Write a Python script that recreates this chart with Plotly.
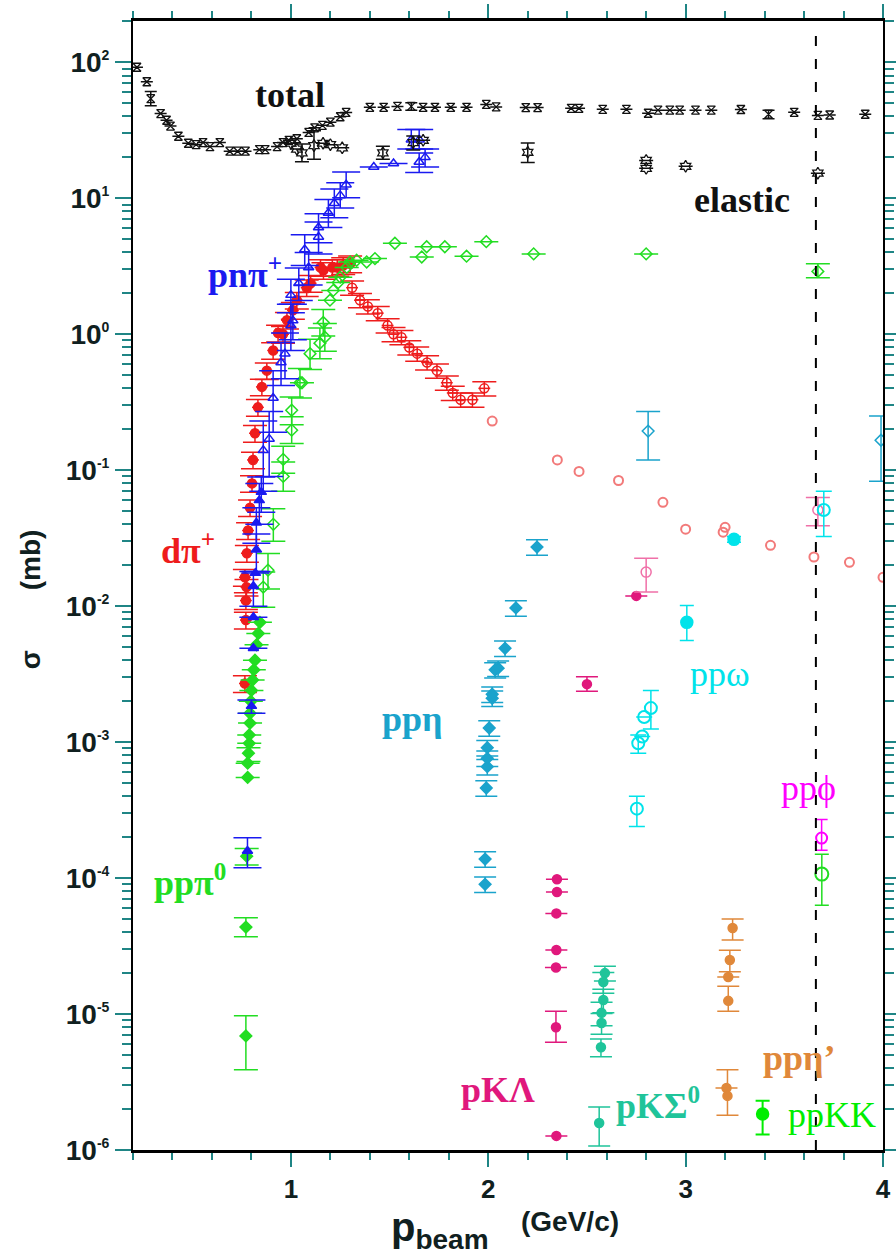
import plotly.graph_objects as go

N = None

# ---------------- axis ticks ----------------
X_MAJOR = [1, 2, 3, 4]
X_TICKTEXT = ["1", "2", "3", "4"]
Y_EXP = [-6, -5, -4, -3, -2, -1, 0, 1, 2]

# ---------------- total (black hourglass) ----------------
total_x = [0.22, 0.27, 0.29, 0.34, 0.37, 0.39, 0.43, 0.48, 0.52, 0.555,
           0.59, 0.64, 0.69, 0.73, 0.77, 0.84, 0.87, 0.93, 0.96, 0.99,
           1.03, 1.09, 1.12, 1.16, 1.20, 1.25, 1.28, 1.40, 1.47, 1.54,
           1.61, 1.67, 1.73, 1.81, 1.89, 1.99, 2.04, 2.19, 2.25, 2.42,
           2.46, 2.58, 2.70, 2.81, 2.86, 2.92, 2.97, 3.05, 3.13, 3.28,
           3.42, 3.55, 3.67, 3.73, 3.91]
total_y = [92, 72, 54, 42, 37.5, 34, 28.6, 25.4, 24.8, 25.7,
           24, 25.7, 22.2, 22.2, 22.2, 22.8, 22.8, 24, 25.7, 26.7,
           27.4, 30.5, 33, 34.4, 36.3, 39.8, 42.8, 46.7, 46.7, 47.4,
           47.4, 46.7, 46.7, 46.7, 46.7, 49, 47, 46.5, 46.5, 45.9,
           45.9, 45.1, 45.1, 42.2, 44.5, 44.5, 44.5, 44.5, 44.5, 45,
           41.5, 42.9, 40.7, 41, 41.5]
total_eu = [N, N, 7, N, N, N, N, N, N, N,
            N, N, N, N, N, N, N, N, N, N,
            N, N, N, N, N, N, N, N, N, N,
            3, N, N, N, N, N, N, N, N, N,
            N, N, N, N, N, N, N, N, N, N,
            3, N, N, N, N]
total_ed = [N, N, 6, N, N, N, N, N, N, N,
            N, N, N, N, N, N, N, N, N, N,
            N, N, N, N, N, N, N, N, N, N,
            3, N, N, N, N, N, N, N, N, N,
            N, N, N, N, N, N, N, N, N, N,
            3, N, N, N, N]

# ---------------- elastic (black hexagram) ----------------
el_x = [1.00, 1.03, 1.056, 1.117, 1.163, 1.20, 1.26, 1.466, 1.62, 1.67, 2.20, 2.80, 2.80, 3.00, 3.67]
el_y = [25.4, 23, 21.6, 24.4, 25.4, 24.8, 23.5, 21.6, 25.7, 26.7, 21.8, 19, 16.6, 17.2, 15.3]
el_eu = [N, N, 3.5, 7, N, N, N, 2.5, 3, N, 3.7, N, N, N, N]
el_ed = [N, N, 3, 5, N, N, N, 2.2, 3, N, 3.5, N, N, N, N]

# ---------------- p n pi+ (blue triangles) ----------------
pnf_x = [0.78, 0.80, 0.81, 0.81, 0.81, 0.82, 0.825, 0.825, 0.84, 0.85]
pnf_y = [1.58e-4, 1.84e-3, 4.9e-3, 8.3e-3, 0.014, 0.0175, 0.026, 0.041, 0.06, 0.069]
pnf_eu = [0.4e-4, 0.2e-3, N, N, 0.004, N, 0.008, 0.012, 0.02, 0.02]
pnf_ed = [0.39e-4, 0.21e-3, N, N, 0.004, N, 0.008, 0.012, 0.02, 0.02]

pno_x = [0.86, 0.89, 0.91, 0.95, 0.97, 1.00, 1.01, 1.00, 1.04, 1.09, 1.07, 1.14,
         1.14, 1.19, 1.22, 1.25, 1.28, 1.42, 1.52, 1.61, 1.65, 1.65, 1.68]
pno_y = [0.14, 0.17, 0.34, 0.62, 0.72, 1.16, 1.26, 1.94, 2.37, 3.1, 4.2, 5.2,
         6.1, 7.8, 9.2, 10.5, 12.6, 17, 18, 27, 27, 18.5, 20]
pno_eu = [0.09, 0.1, 0.2, 0.25, 0.3, 0.5, 0.4, 0.6, 0.7, 0.9, 1.2, 1.5,
          1.6, 2.0, 2.5, 2.5, 3, N, N, 5, 5, 3, 3]
pno_ed = [0.07, 0.08, 0.15, 0.2, 0.25, 0.4, 0.35, 0.5, 0.6, 0.8, 1.0, 1.3,
          1.4, 1.7, 2.0, 2.0, 2.5, N, N, 4, 4, 3, 3]

# ---------------- d pi+ (red) ----------------
dpf_x = [0.767, 0.772, 0.772, 0.775, 0.767, 0.777, 0.783, 0.793, 0.803, 0.808,
         0.818, 0.833, 0.853, 0.878, 0.91, 0.935, 0.96, 0.98, 1.01, 1.03,
         1.08, 1.10, 1.15, 1.165, 1.21, 1.235, 1.265, 1.30]
dpf_y = [2.7e-3, 7.9e-3, 0.011, 0.0138, 0.0163, 0.0245, 0.036, 0.053, 0.08, 0.119,
         0.187, 0.29, 0.41, 0.54, 0.76, 1.02, 1.0, 1.27, 1.5, 1.78,
         2.2, 2.37, 3.1, 2.95, 3.1, 3.1, 3.2, 3.3]

dpo_x = [1.31, 1.35, 1.39, 1.44, 1.49, 1.52, 1.56, 1.60, 1.64, 1.69, 1.74, 1.79, 1.82, 1.86, 1.92, 1.98]
dpo_y = [2.2, 1.78, 1.6, 1.43, 1.16, 1.0, 0.95, 0.8, 0.72, 0.62, 0.54, 0.44, 0.37, 0.33, 0.33, 0.40]

dpl_x = [2.02, 2.35, 2.46, 2.66, 2.885, 3.00, 3.19, 3.20, 3.43, 3.65, 3.83, 4.00]
dpl_y = [0.23, 0.119, 0.098, 0.084, 0.058, 0.0368, 0.035, 0.038, 0.028, 0.023, 0.021, 0.0163]

# ---------------- p p pi0 (green diamonds) ----------------
ppf_x = [0.772, 0.772, 0.776, 0.781, 0.781, 0.785, 0.789, 0.789, 0.793, 0.793,
         0.797, 0.80, 0.806, 0.812, 0.818, 0.826, 0.835, 0.843]
ppf_y = [6.9e-6, 4.36e-5, 1.45e-4, 5.5e-4, 7.0e-4, 8.3e-4, 9.8e-4, 1.13e-3, 1.38e-3, 1.63e-3,
         2.0e-3, 2.4e-3, 2.86e-3, 3.4e-3, 4.0e-3, 5.2e-3, 6.3e-3, 7.6e-3]
ppf_eu = [2.8e-6, 0.74e-5, 0.2e-4, N, N, 0.8e-4, N, N, N, N,
          N, N, N, N, N, N, N, N]
ppf_ed = [3.0e-6, 0.66e-5, 0.2e-4, N, N, 1.1e-4, N, N, N, N,
          N, N, N, N, N, N, N, N]

ppo_x = [0.86, 0.884, 0.911, 0.961, 0.961, 1.004, 1.004, 1.046, 1.056, 1.097,
         1.147, 1.164, 1.172, 1.198, 1.215, 1.24, 1.25, 1.283, 1.30, 1.333,
         1.384, 1.426, 1.527, 1.663, 1.688, 1.78, 1.89, 1.99, 2.23, 2.80, 3.67]
ppo_y = [0.0138, 0.0184, 0.04, 0.09, 0.12, 0.197, 0.276, 0.44, 0.44, 0.72,
         0.86, 1.22, 0.95, 1.78, 2.1, 2.4, 2.63, 3.1, 3.4, 3.5,
         3.4, 3.6, 4.67, 3.7, 4.4, 4.4, 3.75, 4.8, 3.9, 3.9, 2.9]
ppo_eu = [0.004, 0.006, 0.012, 0.025, 0.03, 0.05, 0.07, 0.12, N, 0.2,
          0.25, 0.3, 0.25, N, N, N, N, N, N, N,
          N, N, N, N, N, N, N, N, N, N, 0.4]
ppo_ed = [0.004, 0.005, 0.01, 0.02, 0.025, 0.04, 0.06, 0.1, N, 0.17,
          0.2, 0.25, 0.2, N, N, N, N, N, N, N,
          N, N, N, N, N, N, N, N, N, N, 0.3]

# ---------------- p p eta ----------------
eta_x = [1.984, 1.984, 1.99, 1.995, 1.995, 1.995, 2.005, 2.02, 2.02, 2.035, 2.05, 2.085, 2.14, 2.247]
eta_y = [9.0e-5, 1.38e-4, 4.6e-4, 6.6e-4, 7.6e-4, 9.1e-4, 1.27e-3, 2.1e-3, 2.25e-3, 3.4e-3, 3.5e-3, 4.9e-3, 9.7e-3, 0.0272]
etao_x = [2.81, 3.99]
etao_y = [0.194, 0.166]
etao_eu = [0.076, 0.084]
etao_ed = [0.075, 0.083]

# ---------------- p p omega ----------------
omo_x = [2.753, 2.76, 2.78, 2.79, 2.824, 3.70]
omo_y = [3.24e-4, 9.8e-4, 1.1e-3, 1.53e-3, 1.78e-3, 0.051]
omo_eu = [0.76e-4, 1.5e-4, N, N, 0.62e-3, 0.019]
omo_ed = [0.84e-4, 1.5e-4, N, N, 0.53e-3, 0.0185]
omf_x = [3.006, 3.245]
omf_y = [7.6e-3, 0.031]
omf_eu = [2.5e-3, 1.5e-3]
omf_ed = [2.0e-3, 1.5e-3]

# ---------------- p K Lambda ----------------
kl_x = [2.348, 2.348, 2.345, 2.345, 2.343, 2.343, 2.345, 2.50, 2.75]
kl_y = [9.8e-5, 7.9e-5, 5.5e-5, 2.96e-5, 2.2e-5, 8.0e-6, 1.27e-6, 2.67e-3, 0.0119]
kl_eu = [N, N, N, N, N, 2.5e-6, N, 0.35e-3, N]
kl_ed = [N, N, N, N, N, 1.8e-6, N, 0.3e-3, N]
klo_x = [2.80, 3.67]
klo_y = [0.0178, 0.051]
klo_eu = [0.0047, 0.012]
klo_ed = [0.0051, 0.012]

# ---------------- p K Sigma0 ----------------
ks_x = [2.591, 2.583, 2.583, 2.574, 2.574, 2.571, 2.562]
ks_y = [2.0e-5, 1.72e-5, 1.27e-5, 1.02e-5, 8.6e-6, 5.7e-6, 1.58e-6]
ks_eu = [0.25e-5, 0.3e-5, 0.25e-5, 0.2e-5, 0.15e-5, 0.85e-6, 0.49e-6]
ks_ed = [0.25e-5, 0.3e-5, 0.25e-5, 0.2e-5, 0.15e-5, 0.85e-6, 0.51e-6]

# ---------------- p p eta' ----------------
ep_x = [3.238, 3.224, 3.216, 3.216, 3.207, 3.212]
ep_y = [4.3e-5, 2.5e-5, 1.87e-5, 1.25e-5, 2.86e-6, 2.5e-6]
ep_eu = [0.7e-5, 0.45e-5, N, 0.35e-5, N, 1.4e-6]
ep_ed = [0.8e-5, 0.45e-5, N, 0.2e-5, N, 0.7e-6]

# ---------------- p p phi / p p K K ----------------
phi_x = [3.689]
phi_y = [1.97e-4]
phi_eu = [0.73e-4]
phi_ed = [0.37e-4]
kk_x = [3.39]
kk_y = [1.84e-6]
kk_eu = [0.46e-6]
kk_ed = [0.54e-6]
gro_x = [3.69]
gro_y = [1.07e-4]
gro_eu = [0.43e-4]
gro_ed = [0.44e-4]

DASH_X = 3.66

# ---------------- colours ----------------
C_BLACK = "#111111"
C_BLUE = "#1a1af0"
C_RED = "#ee1c1c"
C_LRED = "#f27a7a"
C_GREEN = "#22dd22"
C_ETA = "#1aa3cc"
C_OMEGA = "#00e3ea"
C_PHI = "#ff00ff"
C_KL = "#e0187c"
C_KLO = "#f070a8"
C_KS = "#1fc49a"
C_EP = "#e0883a"
C_KK = "#00ee00"
C_TICK = "#1f8585"

fig = go.Figure()


def pts(x, y, color, symbol, size, up=None, dn=None, cap=10, lw=1.5, mlw=1.5,
        pct=None, ex=None):
    tr = go.Scatter(x=x, y=y, mode="markers",
                    marker=dict(symbol=symbol, size=size, color=color,
                                line=dict(color=color, width=mlw)),
                    showlegend=False, hoverinfo="skip", cliponaxis=True)
    if up is not None:
        tr.error_y = dict(type="data", symmetric=False, array=up, arrayminus=dn,
                          color=color, thickness=lw, width=cap, visible=True)
    elif pct is not None:
        tr.error_y = dict(type="percent", value=pct, color=color, thickness=lw,
                          width=cap, visible=True)
    if ex is not None:
        tr.error_x = dict(type="constant", value=ex, color=color, thickness=lw,
                          width=0, visible=True)
    fig.add_trace(tr)


# red d pi+
pts(dpf_x, dpf_y, C_RED, "circle", 9, pct=14, cap=12, ex=0.03)
pts(dpo_x, dpo_y, C_RED, "circle-open", 9, pct=12, cap=12, ex=0.03)
pts(dpl_x, dpl_y, C_LRED, "circle-open", 9, mlw=2)
# green pp pi0
pts(ppo_x, ppo_y, C_GREEN, "diamond-open", 9, ppo_eu, ppo_ed, cap=12)
pts(ppf_x, ppf_y, C_GREEN, "diamond", 9, ppf_eu, ppf_ed, cap=12)
# blue pn pi+
pts(pno_x, pno_y, C_BLUE, "triangle-up-open", 9, pno_eu, pno_ed, cap=14)
pts(pnf_x, pnf_y, C_BLUE, "triangle-up", 9, pnf_eu, pnf_ed, cap=14)
# total / elastic
pts(total_x, total_y, C_BLACK, "hourglass-open", 8, total_eu, total_ed, cap=6, mlw=1.3)
pts(el_x, el_y, C_BLACK, "hexagram-open", 9, el_eu, el_ed, cap=7, mlw=1.3)
# pp eta
pts(eta_x, eta_y, C_ETA, "diamond", 9, pct=13, cap=11)
pts(etao_x, etao_y, C_ETA, "diamond-open", 9, etao_eu, etao_ed, cap=12)
# pK Lambda
pts(kl_x, kl_y, C_KL, "circle", 9, kl_eu, kl_ed, cap=11)
pts(klo_x, klo_y, C_KLO, "circle-open", 10, klo_eu, klo_ed, cap=12)
# pK Sigma0
pts(ks_x, ks_y, C_KS, "circle", 9, ks_eu, ks_ed, cap=11)
# pp eta'
pts(ep_x, ep_y, C_EP, "circle", 9, ep_eu, ep_ed, cap=11)
# pp omega
pts(omo_x, omo_y, C_OMEGA, "circle-open", 12, omo_eu, omo_ed, cap=8, mlw=2)
pts(omf_x, omf_y, C_OMEGA, "circle", 12, omf_eu, omf_ed, cap=7)
# pp phi, pp KK, green open
pts(phi_x, phi_y, C_PHI, "circle-open", 11, phi_eu, phi_ed, cap=6, mlw=2)
pts(gro_x, gro_y, C_GREEN, "circle-open", 13, gro_eu, gro_ed, cap=7, mlw=2)
pts(kk_x, kk_y, C_KK, "circle", 12, kk_eu, kk_ed, cap=7, lw=2)

# dashed vertical line
fig.add_shape(type="line", xref="x", yref="paper", x0=DASH_X, x1=DASH_X, y0=0, y1=0.995,
              line=dict(color="black", width=2, dash="10px,13px"))

# ---------------- labels ----------------
SERIF = "Liberation Serif"
labels = [
    ("<b>total</b>", 0.995, 1.757, C_BLACK),
    ("<b>elastic</b>", 3.285, 0.985, C_BLACK),
    ("<b>pnπ<sup>+</sup></b>", 0.767, 0.456, C_BLUE),
    ("<b>dπ<sup>+</sup></b>", 0.479, -1.574, C_RED),
    ("<b>ppπ<sup>0</sup></b>", 0.489, -4.015, C_GREEN),
    ("<b>ppη</b>", 1.618, -2.83, C_ETA),
    ("ppω", 3.174, -2.50, C_OMEGA),
    ("ppϕ", 3.62, -3.338, C_PHI),
    ("<b>pKΛ</b>", 2.05, -5.56, C_KL),
    ("<b>pKΣ<sup>0</sup></b>", 2.86, -5.66, C_KS),
    ("<b>ppη’</b>", 3.574, -5.32, C_EP),
    ("ppKK", 3.74, -5.74, C_KK),
]
for txt, lx, ly, col in labels:
    fig.add_annotation(x=lx, y=ly, xref="x", yref="y", text=txt, showarrow=False,
                       font=dict(family=SERIF, size=36, color=col),
                       xanchor="center", yanchor="middle")

# axis titles (plot area: 750 x 1129 px)
SANS = "Liberation Sans"
TITLE_C = "#102020"
fig.add_annotation(x=-0.137, y=(1150 - 660) / 1129, xref="paper", yref="paper", text="<b>σ</b>",
                   showarrow=False, textangle=-90, xanchor="center", yanchor="middle",
                   font=dict(family=SANS, size=28, color=TITLE_C))
fig.add_annotation(x=-0.137, y=(1150 - 560) / 1129, xref="paper", yref="paper", text="<b>(mb)</b>",
                   showarrow=False, textangle=-90, xanchor="center", yanchor="middle",
                   font=dict(family=SANS, size=28, color=TITLE_C))
fig.add_annotation(x=(440 - 133) / 750, y=-(1230 - 1150) / 1129, xref="paper", yref="paper",
                   text="<b>p<sub>beam</sub></b>", showarrow=False,
                   xanchor="center", yanchor="middle",
                   font=dict(family=SANS, size=40, color=TITLE_C))
fig.add_annotation(x=(570 - 133) / 750, y=-(1221 - 1150) / 1129, xref="paper", yref="paper",
                   text="<b>(GeV/c)</b>", showarrow=False,
                   xanchor="center", yanchor="middle",
                   font=dict(family=SANS, size=28, color=TITLE_C))

# ---------------- layout ----------------
y_minor = [k * 10.0 ** e for e in range(-6, 3) for k in range(2, 10)]
fig.update_layout(
    width=896, height=1255,
    margin=dict(l=133, r=13, t=21, b=105, autoexpand=False),
    plot_bgcolor="white", paper_bgcolor="white",
    showlegend=False,
)
fig.update_xaxes(
    range=[0.2, 4.0], tickvals=X_MAJOR, ticktext=["<b>%s</b>" % t for t in X_TICKTEXT],
    ticks="outside", ticklen=14, tickwidth=1.5, tickcolor=C_TICK,
    showline=True, linecolor="black", linewidth=2.5, mirror="allticks",
    showgrid=False, zeroline=False, automargin=False,
    tickfont=dict(family=SANS, size=26, color=TITLE_C),
    minor=dict(dtick=0.2, tick0=0.2, ticks="outside", ticklen=7, tickwidth=1.5,
               tickcolor=C_TICK, showgrid=False),
)
fig.update_yaxes(
    type="log", range=[-6, 2.304],
    tickvals=[10.0 ** e for e in Y_EXP],
    ticktext=["<b>10<sup><span style='font-size:14px'>%d</span></sup></b>" % e for e in Y_EXP],
    ticks="outside", ticklen=16, tickwidth=1.5, tickcolor=C_TICK,
    showline=True, linecolor="black", linewidth=2, mirror="allticks",
    showgrid=False, zeroline=False, automargin=False,
    tickfont=dict(family=SANS, size=28, color=TITLE_C),
    minor=dict(tickvals=y_minor, ticks="outside", ticklen=9, tickwidth=1.5,
               tickcolor=C_TICK, showgrid=False),
)

fig.write_html("out.html")
